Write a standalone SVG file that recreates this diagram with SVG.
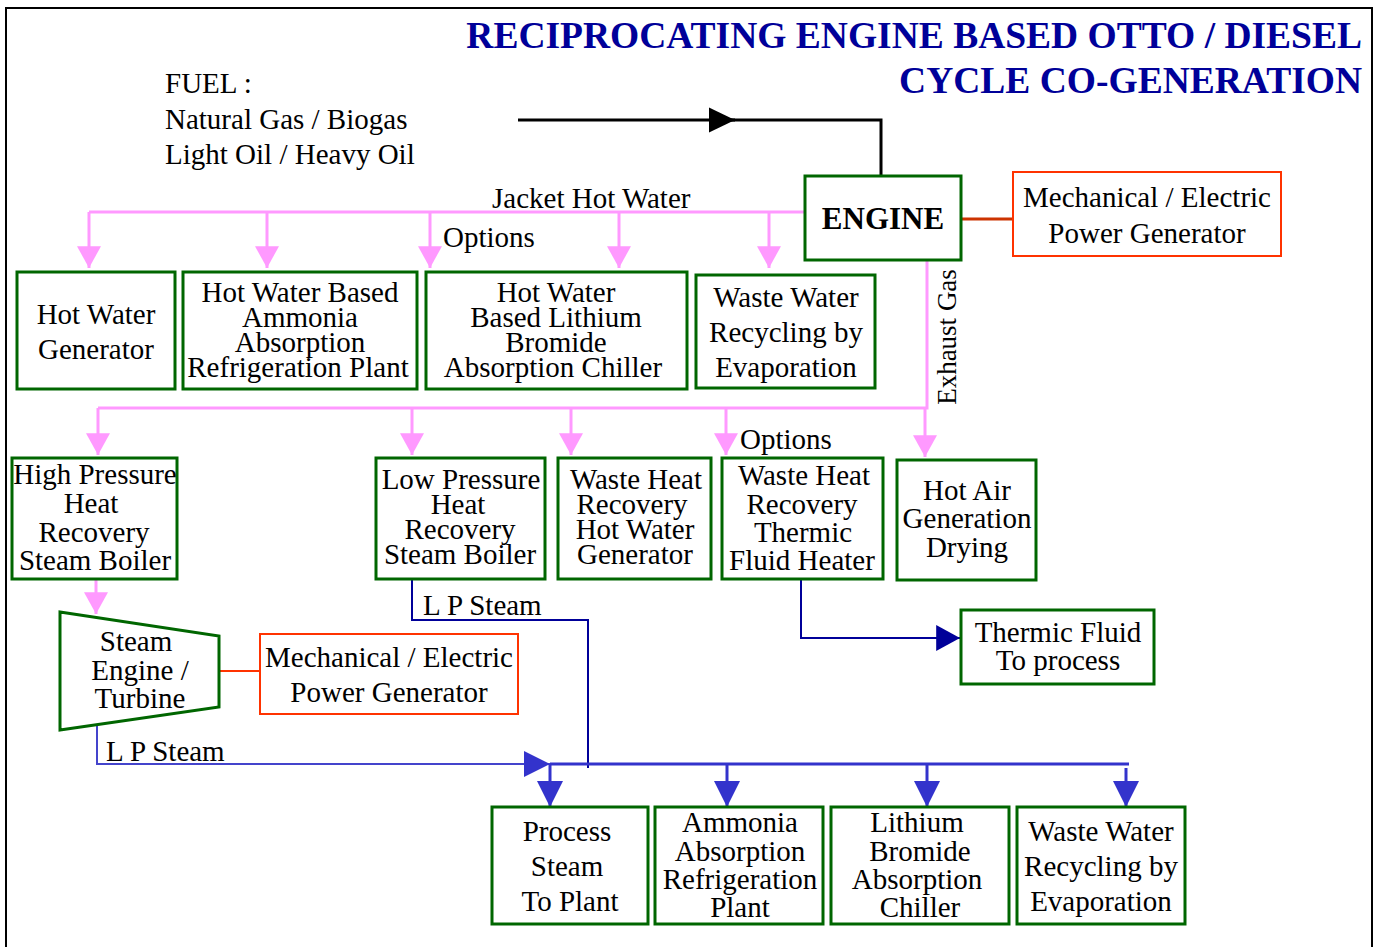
<svg xmlns="http://www.w3.org/2000/svg" width="1378" height="947" viewBox="0 0 1378 947">
<style>
text{font-family:"Liberation Serif","Times New Roman",serif;fill:#000;}
.t{font-size:29px;text-anchor:middle;}
.lbl{font-size:29px;}
.box{fill:#fff;stroke:#006600;stroke-width:3;}
.gen{fill:#fff;stroke:#ff3300;stroke-width:2;}
.pink{fill:none;stroke:#ff99ff;stroke-width:3;}
.blue{fill:none;stroke:#3333cc;stroke-width:3;}
.dblue{fill:none;stroke:#000099;stroke-width:2;}
.title{font-size:37.5px;font-weight:bold;fill:#000099;text-anchor:end;}
</style>
<defs>
<marker id="ap" markerUnits="userSpaceOnUse" markerWidth="24" markerHeight="24" refX="20" refY="11" orient="auto" viewBox="0 0 20 22"><path d="M0,0 L20,11 L0,22 Z" fill="#ff99ff"/></marker>
<marker id="ab" markerUnits="userSpaceOnUse" markerWidth="26" markerHeight="26" refX="24" refY="12" orient="auto" viewBox="0 0 24 24"><path d="M0,0 L24,12 L0,24 Z" fill="#3333cc"/></marker>
<marker id="ad" markerUnits="userSpaceOnUse" markerWidth="26" markerHeight="26" refX="22" refY="12" orient="auto" viewBox="0 0 22 24"><path d="M0,0 L22,12 L0,24 Z" fill="#000099"/></marker>
<marker id="ak" markerUnits="userSpaceOnUse" markerWidth="26" markerHeight="26" refX="25" refY="12" orient="auto" viewBox="0 0 25 24"><path d="M0,0 L25,12 L0,24 Z" fill="#000"/></marker>
</defs>
<rect x="0" y="0" width="1378" height="947" fill="#fff"/>
<path d="M6,947 V8 H1372 V947" fill="none" stroke="#000" stroke-width="2"/>

<g id="title">
<text class="title" x="1362" y="48">RECIPROCATING ENGINE BASED OTTO / DIESEL</text>
<text class="title" x="1362" y="93">CYCLE CO-GENERATION</text>
</g>
<g id="fuel">
<text class="lbl" x="165" y="93">FUEL :</text>
<text class="lbl" x="165" y="129">Natural Gas / Biogas</text>
<text class="lbl" x="165" y="164">Light Oil / Heavy Oil</text>
</g>

<g id="connectors">
<path d="M518,120 H735" fill="none" stroke="#000" stroke-width="3" marker-end="url(#ak)"/>
<path d="M730,120 H881 V176" fill="none" stroke="#000" stroke-width="3"/>
<path d="M961,219 H1013" fill="none" stroke="#cc3300" stroke-width="3"/>
<path class="pink" d="M805,212 H89"/>
<path class="pink" d="M89,212 V268" marker-end="url(#ap)"/>
<path class="pink" d="M267,212 V268" marker-end="url(#ap)"/>
<path class="pink" d="M430,212 V268" marker-end="url(#ap)"/>
<path class="pink" d="M619,212 V268" marker-end="url(#ap)"/>
<path class="pink" d="M769,212 V268" marker-end="url(#ap)"/>
<path class="pink" d="M927,261 V408 H98"/>
<path class="pink" d="M98,408 V455" marker-end="url(#ap)"/>
<path class="pink" d="M412,408 V455" marker-end="url(#ap)"/>
<path class="pink" d="M571,408 V455" marker-end="url(#ap)"/>
<path class="pink" d="M726,408 V455" marker-end="url(#ap)"/>
<path class="pink" d="M925,408 V457" marker-end="url(#ap)"/>
<path class="pink" d="M96,580 V614" marker-end="url(#ap)"/>
<path d="M219,671 H260" fill="none" stroke="#ff3300" stroke-width="2"/>
<path d="M97,726 V764 H550" fill="none" stroke="#4444cc" stroke-width="2" marker-end="url(#ab)"/>
<path class="dblue" d="M412,580 V620 H588 V768"/>
<path class="blue" d="M550,764 H1129"/>
<path class="blue" d="M550,764 V807" marker-end="url(#ab)"/>
<path class="blue" d="M727,764 V807" marker-end="url(#ab)"/>
<path class="blue" d="M927,764 V807" marker-end="url(#ab)"/>
<path class="blue" d="M1126,768 V807" marker-end="url(#ab)"/>
<path class="dblue" d="M801,580 V638 H960" marker-end="url(#ad)"/>
<text class="lbl" x="492" y="208">Jacket Hot Water</text>
<text class="lbl" x="443" y="247">Options</text>
<text class="lbl" x="740" y="449">Options</text>
<text style="font-size:27px;text-anchor:middle" transform="translate(956,337) rotate(-90)">Exhaust Gas</text>
<text class="lbl" x="423" y="615">L P Steam</text>
<text class="lbl" x="106" y="761">L P Steam</text>
</g>

<g id="engine">
<rect class="box" x="805" y="176" width="156" height="84"/>
<text x="883" y="229" style="font-size:31px;font-weight:bold;text-anchor:middle">ENGINE</text>
</g>
<g id="gen-top">
<rect class="gen" x="1013" y="172" width="268" height="84"/>
<text class="t" x="1147" y="207">Mechanical / Electric</text>
<text class="t" x="1147" y="243">Power Generator</text>
</g>

<g id="hot-water-generator">
<rect class="box" x="17" y="272" width="158" height="117"/>
<text class="t" x="96" y="324">Hot Water</text>
<text class="t" x="96" y="359">Generator</text>
</g>
<g id="hw-ammonia">
<rect class="box" x="183" y="272" width="234" height="117"/>
<text class="t" x="300" y="302">Hot Water Based</text>
<text class="t" x="300" y="327">Ammonia</text>
<text class="t" x="300" y="352">Absorption</text>
<text class="t" x="298" y="377">Refrigeration Plant</text>
</g>
<g id="hw-lithium">
<rect class="box" x="426" y="272" width="261" height="117"/>
<text class="t" x="556" y="302">Hot Water</text>
<text class="t" x="556" y="327">Based Lithium</text>
<text class="t" x="556" y="352">Bromide</text>
<text class="t" x="553" y="377">Absorption Chiller</text>
</g>
<g id="ww-top">
<rect class="box" x="696" y="275" width="179" height="113"/>
<text class="t" x="786" y="307">Waste Water</text>
<text class="t" x="786" y="342">Recycling by</text>
<text class="t" x="786" y="377">Evaporation</text>
</g>

<g id="hp-boiler">
<rect class="box" x="12" y="458" width="165" height="121"/>
<text class="t" x="95" y="484">High Pressure</text>
<text class="t" x="91" y="513">Heat</text>
<text class="t" x="94" y="542">Recovery</text>
<text class="t" x="95" y="570">Steam Boiler</text>
</g>
<g id="lp-boiler">
<rect class="box" x="376" y="458" width="169" height="121"/>
<text class="t" x="461" y="489">Low Pressure</text>
<text class="t" x="458" y="514">Heat</text>
<text class="t" x="460" y="539">Recovery</text>
<text class="t" x="460" y="564">Steam Boiler</text>
</g>
<g id="whr-hw">
<rect class="box" x="558" y="458" width="153" height="121"/>
<text class="t" x="636" y="489">Waste Heat</text>
<text class="t" x="632" y="514">Recovery</text>
<text class="t" x="635" y="539">Hot Water</text>
<text class="t" x="635" y="564">Generator</text>
</g>
<g id="whr-tf">
<rect class="box" x="722" y="458" width="161" height="121"/>
<text class="t" x="804" y="485">Waste Heat</text>
<text class="t" x="802" y="514">Recovery</text>
<text class="t" x="803" y="542">Thermic</text>
<text class="t" x="802" y="570">Fluid Heater</text>
</g>
<g id="hot-air">
<rect class="box" x="897" y="460" width="139" height="120"/>
<text class="t" x="967" y="500">Hot Air</text>
<text class="t" x="967" y="528">Generation</text>
<text class="t" x="967" y="557">Drying</text>
</g>

<g id="turbine">
<path d="M60,612 L219,636 L219,707 L60,730 Z" fill="#fff" stroke="#006600" stroke-width="3"/>
<text class="t" x="136" y="651">Steam</text>
<text class="t" x="140" y="680">Engine /</text>
<text class="t" x="140" y="708">Turbine</text>
</g>
<g id="gen-low">
<rect class="gen" x="260" y="634" width="258" height="80"/>
<text class="t" x="389" y="667">Mechanical / Electric</text>
<text class="t" x="389" y="702">Power Generator</text>
</g>
<g id="thermic-fluid">
<rect class="box" x="961" y="610" width="193" height="74"/>
<text class="t" x="1058" y="642">Thermic Fluid</text>
<text class="t" x="1058" y="670">To process</text>
</g>

<g id="process-steam">
<rect class="box" x="492" y="807" width="156" height="117"/>
<text class="t" x="567" y="841">Process</text>
<text class="t" x="567" y="876">Steam</text>
<text class="t" x="570" y="911">To Plant</text>
</g>
<g id="ammonia">
<rect class="box" x="655" y="807" width="168" height="117"/>
<text class="t" x="740" y="832">Ammonia</text>
<text class="t" x="740" y="861">Absorption</text>
<text class="t" x="740" y="889">Refrigeration</text>
<text class="t" x="740" y="917">Plant</text>
</g>
<g id="lithium">
<rect class="box" x="831" y="807" width="178" height="117"/>
<text class="t" x="917" y="832">Lithium</text>
<text class="t" x="920" y="861">Bromide</text>
<text class="t" x="917" y="889">Absorption</text>
<text class="t" x="920" y="917">Chiller</text>
</g>
<g id="ww-bottom">
<rect class="box" x="1017" y="807" width="168" height="117"/>
<text class="t" x="1101" y="841">Waste Water</text>
<text class="t" x="1101" y="876">Recycling by</text>
<text class="t" x="1101" y="911">Evaporation</text>
</g>
</svg>
